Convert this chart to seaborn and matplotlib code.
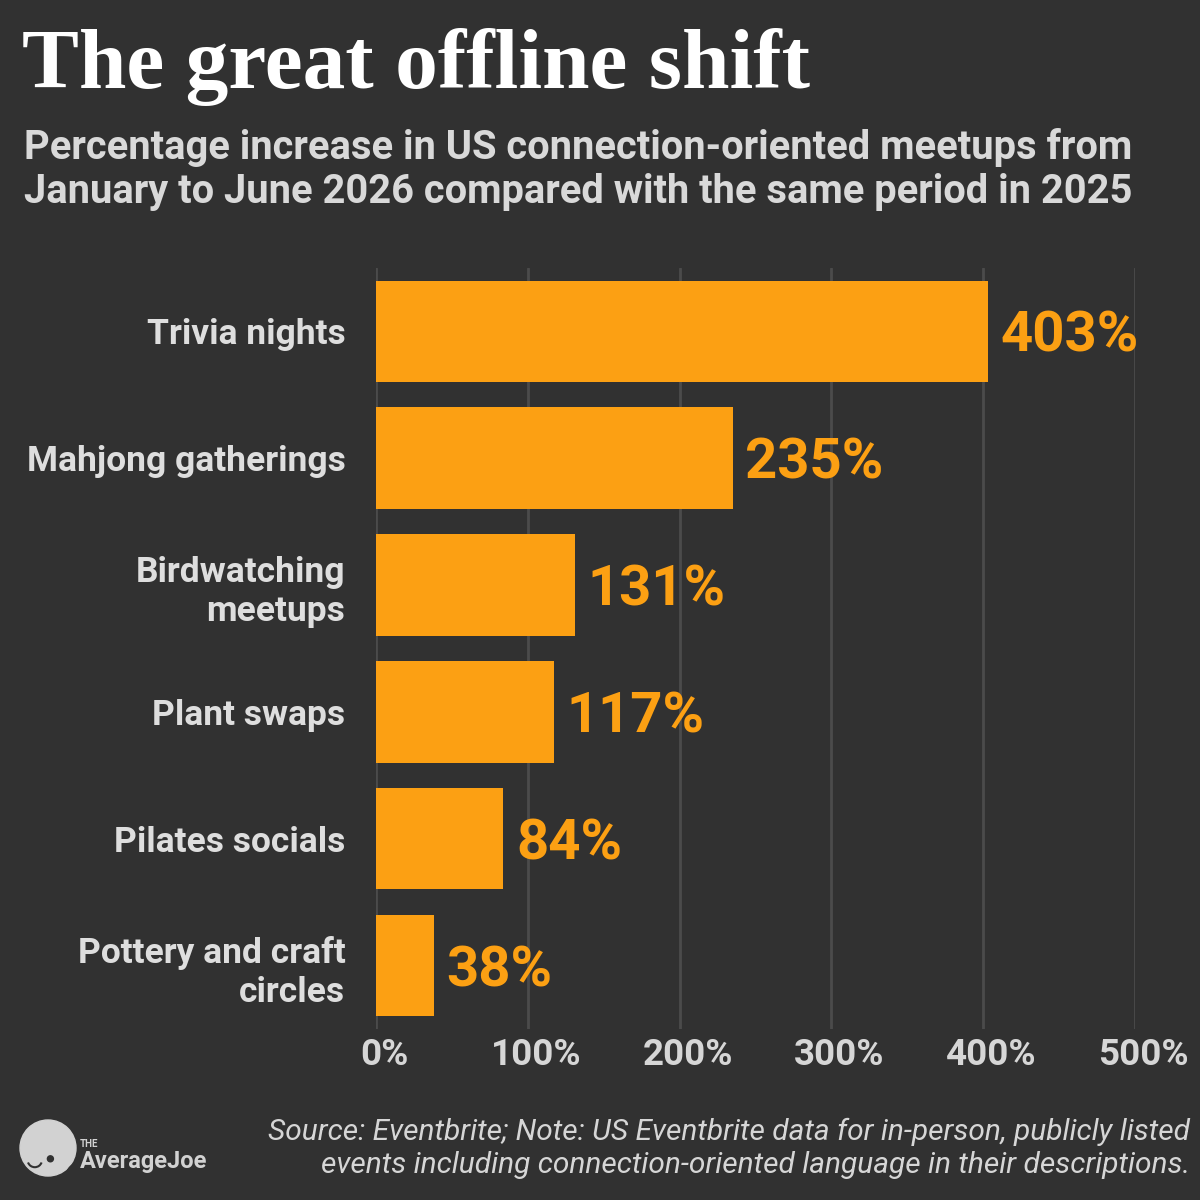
import matplotlib
matplotlib.use("Agg")
import matplotlib.pyplot as plt
import matplotlib.transforms as mtransforms
import seaborn as sns
import pandas as pd
from matplotlib.patches import Circle, Arc

# data
categories = ["Trivia nights", "Mahjong gatherings", "Birdwatching\nmeetups",
              "Plant swaps", "Pilates socials", "Pottery and craft\ncircles"]
values = [403, 235, 131, 117, 84, 38]
tick_values = [0, 100, 200, 300, 400, 500]
tick_labels = ["0%", "100%", "200%", "300%", "400%", "500%"]

BG = "#313131"
BAR = "#FCA013"
GRID = "#4B4B4B"
TXT = "#DEDEDE"
LOGO = "#D2D2D2"

sns.set_theme(style="dark")
plt.rcParams["font.family"] = ["Roboto", "DejaVu Sans"]

df = pd.DataFrame({"category": categories, "value": values})

fig = plt.figure(figsize=(12, 12), dpi=100, facecolor=BG)
ax = fig.add_axes([0.3133, 0.1425, 0.6325, 0.6342])
ax.set_facecolor(BG)

sns.barplot(data=df, x="value", y="category", orient="h", color=BAR,
            saturation=1, width=0.8, linewidth=0, ax=ax, zorder=3)

ax.set_xlim(0, 500)
ax.set_ylim(5.5, -0.5)
ax.set_xticks(tick_values)
ax.set_xticklabels(tick_labels)
ax.set_xlabel("")
ax.set_ylabel("")
for s in ax.spines.values():
    s.set_visible(False)
ax.grid(axis="x", color=GRID, linewidth=2, zorder=0)
ax.grid(axis="y", visible=False)
ax.tick_params(axis="x", length=0, pad=6, labelsize=26.5, labelcolor="#D6D6D6")
ax.tick_params(axis="y", length=0, pad=22, labelsize=25.5, labelcolor=TXT)
shift = mtransforms.ScaledTranslation(8 / 100, 0, fig.dpi_scale_trans)
for lbl in ax.get_xticklabels():
    lbl.set_fontweight("bold")
    lbl.set_transform(lbl.get_transform() + shift)
for lbl in ax.get_yticklabels():
    lbl.set_fontweight("bold")
    lbl.set_linespacing(1.25)
    lbl.set_horizontalalignment("right")

# value labels
for i, v in enumerate(values):
    ax.annotate(f"{v}%", xy=(v, i), xytext=(9, 0), textcoords="offset points",
                ha="left", va="center_baseline", fontsize=40.5, fontweight="bold",
                color=BAR)

# title block
fig.text(0.018, 0.944, "The great offline shift", ha="left", va="center",
         fontsize=61.5, fontweight="bold", color="white",
         family=["Liberation Serif", "DejaVu Serif"])
fig.text(0.02, 0.859, "Percentage increase in US connection-oriented meetups from\n"
         "January to June 2026 compared with the same period in 2025",
         ha="left", va="center", fontsize=28.7, fontweight="bold",
         color="#D9D9D9", linespacing=1.2)

# footnote
fig.text(0.992, 0.043, "Source: Eventbrite; Note: US Eventbrite data for in-person, publicly listed\n"
         "events including connection-oriented language in their descriptions.",
         ha="right", va="center", fontsize=21.5, style="italic",
         color="#D6D6D6", linespacing=1.24)

# logo
cx, cy, r = 48 / 1200, 1 - 1148 / 1200, 28 / 1200
fig.patches.append(Circle((cx, cy), r, transform=fig.transFigure,
                          color=LOGO, zorder=5))
fig.patches.append(Circle((cx + 0.027, cy - 0.024), 0.012, transform=fig.transFigure,
                          color=BG, zorder=6))
fig.patches.append(Circle((cx + 0.002, cy - 0.009), 0.0025, transform=fig.transFigure,
                          color=BG, zorder=7))
fig.patches.append(Arc((cx - 0.011, cy - 0.01), 0.012, 0.012, theta1=200, theta2=340,
                       transform=fig.transFigure, color=BG, lw=1.5, zorder=7))
fig.text(0.0667, 0.047, "THE", fontsize=7, fontweight="bold", color=LOGO,
         ha="left", va="center", zorder=10)
fig.text(0.0667, 0.032, "AverageJoe", fontsize=17, fontweight="bold", color=LOGO,
         ha="left", va="center", zorder=10)

fig.savefig("out.png", dpi=100, facecolor=BG)
